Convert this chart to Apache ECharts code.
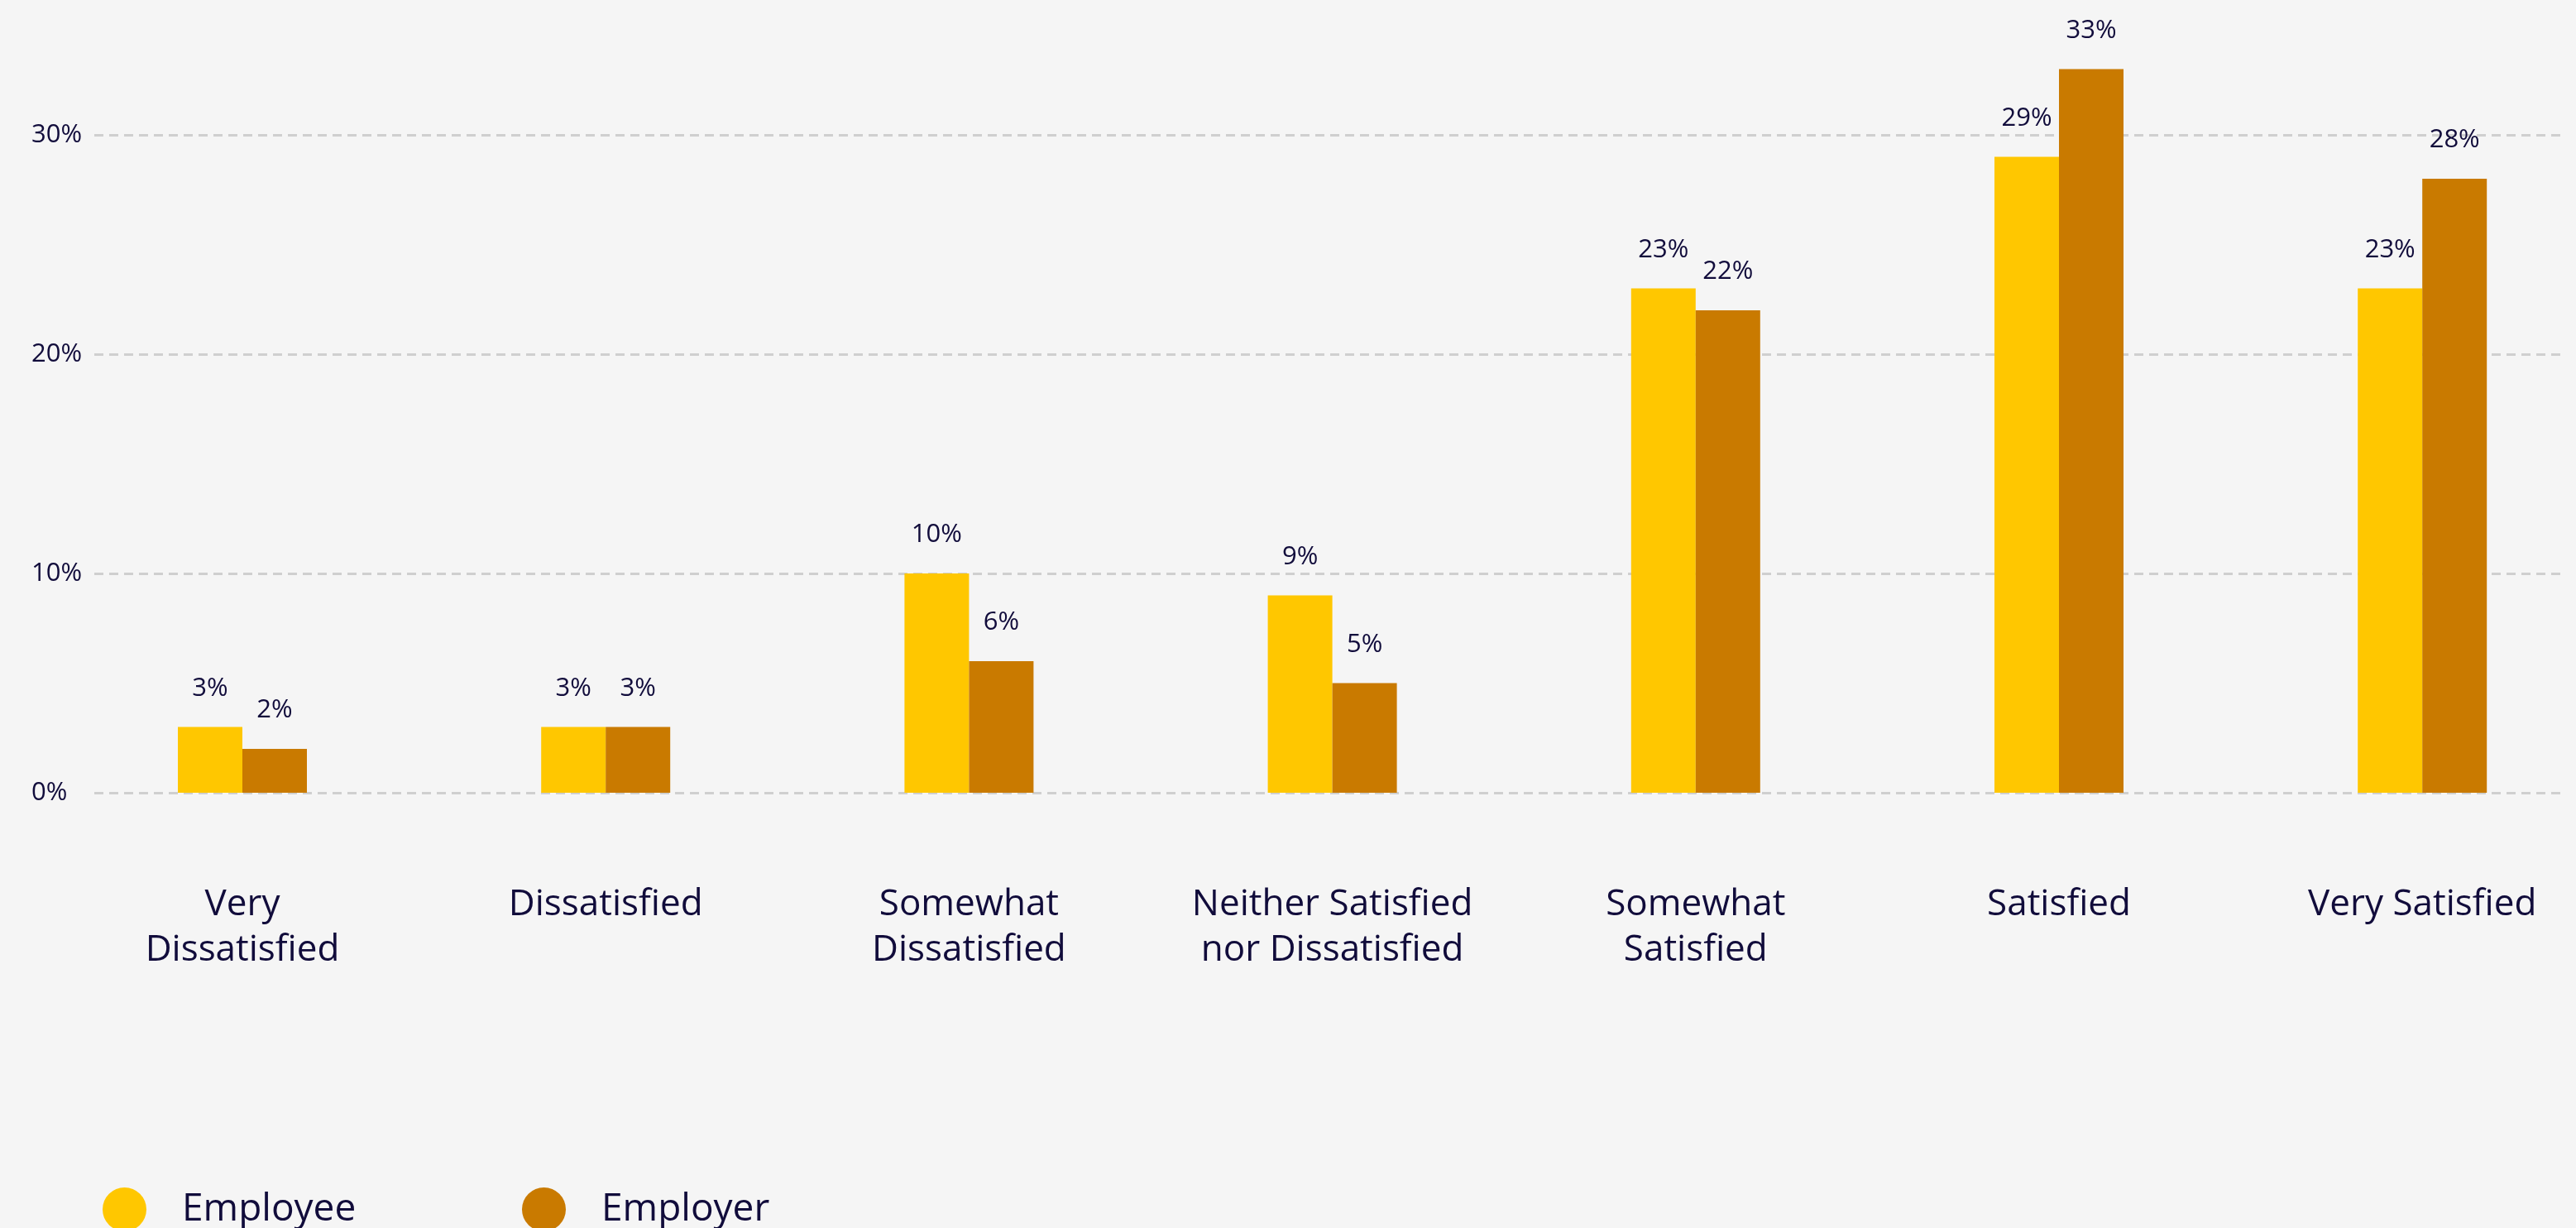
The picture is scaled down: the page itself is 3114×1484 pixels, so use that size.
<!DOCTYPE html>
<html>
<head>
<meta charset="utf-8">
<script src="https://cdn.jsdelivr.net/npm/echarts@6/dist/echarts.min.js"></script>
<style>
html,body{margin:0;padding:0;background:#f5f5f5;}
#chart{width:3114px;height:1484px;}
</style>
</head>
<body>
<div id="chart"></div>
<script>
const categories = ['Very\nDissatisfied','Dissatisfied','Somewhat\nDissatisfied','Neither Satisfied\nnor Dissatisfied','Somewhat\nSatisfied','Satisfied','Very Satisfied'];
const employee = [3,3,10,9,23,29,23];
const employer = [2,3,6,5,22,33,28];
const seriesNames = ['Employee','Employer'];
const yTicks = [0,10,20,30];

const FONT = 'Open Sans';
const TEXT = '#110c3b';
const chart = echarts.init(document.getElementById('chart'));
const barLabel = {show:true, position:'top', distance:31, formatter:'{c}%', color:TEXT, fontFamily:FONT, fontSize:31};
chart.setOption({
  backgroundColor:'#f5f5f5',
  animation:false,
  legend:[
    {data:[seriesNames[0]], left:119, top:1430, icon:'circle', itemWidth:53, itemHeight:53, textStyle:{fontFamily:FONT, fontSize:46, color:TEXT, padding:[0,0,0,38]}},
    {data:[seriesNames[1]], left:626, top:1430, icon:'circle', itemWidth:53, itemHeight:53, textStyle:{fontFamily:FONT, fontSize:46, color:TEXT, padding:[0,0,0,38]}}
  ],
  grid:[
    {left:73.4, width:3074.4, top:30.5, bottom:526, outerBoundsMode:'none', containLabel:false},
    {left:114, right:14, top:163, bottom:526, outerBoundsMode:'none', containLabel:false}
  ],
  xAxis:[
    {type:'category', gridIndex:0, data:categories, axisLine:{show:false}, axisTick:{show:false},
     axisLabel:{margin:108, color:TEXT, fontFamily:FONT, fontSize:44, lineHeight:55, interval:0}},
    {type:'category', gridIndex:1, data:categories, show:false}
  ],
  yAxis:[
    {type:'value', gridIndex:0, min:0, max:35, show:false, splitLine:{show:false}},
    {type:'value', gridIndex:1, min:0, max:yTicks[yTicks.length-1], interval:10,
     axisLine:{show:false}, axisTick:{show:false},
     axisLabel:{align:'left', margin:76, color:TEXT, fontFamily:FONT, fontSize:31, formatter:'{value}%'},
     splitLine:{show:true, lineStyle:{color:'#cfcfcf', width:3, type:[11,7]}}}
  ],
  series:[
    {name:seriesNames[0], type:'bar', xAxisIndex:0, yAxisIndex:0, data:employee, barWidth:78, barGap:'0%', itemStyle:{color:'#ffc700'}, label:barLabel},
    {name:seriesNames[1], type:'bar', xAxisIndex:0, yAxisIndex:0, data:employer, barWidth:78, barGap:'0%', itemStyle:{color:'#c97a00'}, label:barLabel}
  ]
});
</script>
</body>
</html>
